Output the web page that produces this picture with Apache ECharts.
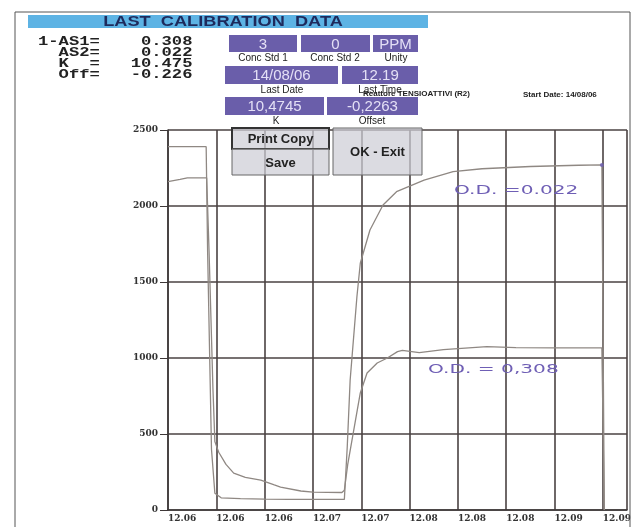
<!DOCTYPE html>
<html>
<head>
<meta charset="utf-8">
<script src="https://cdn.jsdelivr.net/npm/echarts@6/dist/echarts.min.js"></script>
<style>
  html, body { margin: 0; padding: 0; background: #fff; }
  #chart { width: 640px; height: 527px; }
</style>
</head>
<body>
<div id="chart"></div>
<script>
// time axis tick labels (one per vertical grid line)
const timeLabels = ['12.06', '12.06', '12.06', '12.07', '12.07', '12.08', '12.08', '12.08', '12.09', '12.09']

// upper curve at start (~2390), bottom flat, rises to ~2270
const seriesA = [
  [0, 2390], [0.79, 2390], [0.82, 1700], [0.9, 400], [0.97, 110], [1.1, 80], [1.5, 75],
  [2.0, 72], [2.5, 70], [3.65, 70], [3.71, 416], [3.77, 855], [3.91, 1403], [3.98, 1623],
  [4.18, 1842], [4.45, 2007], [4.73, 2094], [5.3, 2170], [5.9, 2226], [6.5, 2245],
  [7.5, 2260], [8.5, 2268], [8.98, 2270], [9.03, 0],
]

// lower curve at start (~2180), decays, rises to ~1070
const seriesB = [
  [0, 2160], [0.25, 2175], [0.4, 2185], [0.8, 2185], [0.85, 1700], [0.93, 800], [0.97, 450],
  [1.05, 380], [1.2, 300], [1.36, 243], [1.6, 215], [1.92, 197], [2.2, 165], [2.33, 151],
  [2.75, 125], [3.0, 118], [3.6, 115], [3.65, 130], [3.72, 300], [3.87, 572], [3.98, 770],
  [4.12, 901], [4.33, 967], [4.54, 1000], [4.75, 1042], [4.85, 1050], [5.2, 1035],
  [5.7, 1055], [6.6, 1075], [7.2, 1068], [8.0, 1066], [8.98, 1066], [9.03, 0],
]

// pen mark at the end of the upper curve
const penDot = [[8.98, 2270]]

// last calibration values printed top left
const calibLines = ['1-AS1=    0.308', '  AS2=    0.022', '  K  =   10.475', '  Off=   -0.226']

const chart = echarts.init(document.getElementById('chart'))

const purple = '#6a5eaa'
const boxText = '#e4e0f6'
const lbl = '10px "Liberation Sans", Arial, sans-serif'

function box(x, y, w, h, text, size) {
  return [
    { type: 'rect', shape: { x, y, width: w, height: h }, style: { fill: purple }, z: 10 },
    {
      type: 'text', x: x + w / 2, y: y + h / 2 + 1, z: 11,
      style: { text, fill: boxText, font: (size || 15) + 'px "Liberation Sans", Arial, sans-serif', align: 'center', verticalAlign: 'middle' },
    },
  ]
}

function label(x, y, text, font, align, sx) {
  return {
    type: 'text', x, y, z: 11, scaleX: sx || 1,
    style: { text, fill: '#222', font: font || lbl, align: align || 'center', verticalAlign: 'middle' },
  }
}

function button(x, y, w, h, text, thick) {
  return [
    {
      type: 'rect', shape: { x, y, width: w, height: h }, z: 10,
      style: { fill: 'rgba(205,205,214,0.72)', stroke: thick ? '#333' : '#666', lineWidth: thick ? 2 : 1 },
    },
    label(x + w / 2, y + h / 2 + 1, text, 'bold 13px "Liberation Sans", Arial, sans-serif'),
  ]
}

const mono = 'bold 13px "Liberation Mono", "DejaVu Sans Mono", monospace'
const hand = '13px "DejaVu Sans", sans-serif'

const graphics = [
  // white margin beyond the page frame (clips the last time label)
  { type: 'rect', shape: { x: 630.5, y: 500, width: 10, height: 27 }, style: { fill: '#fff' }, z: 100 },
  // page frame
  { type: 'rect', shape: { x: 15, y: 12, width: 615, height: 530 }, style: { fill: 'none', stroke: '#555', lineWidth: 1 }, z: 101 },
  // title bar
  { type: 'rect', shape: { x: 28, y: 15, width: 400, height: 13 }, style: { fill: '#5db3e4' }, z: 10 },
  {
    type: 'text', x: 223, y: 22, z: 11, scaleX: 1.3,
    style: { text: 'LAST  CALIBRATION  DATA', fill: '#1e2a5c', font: 'bold 14px "Liberation Sans", Arial, sans-serif', align: 'center', verticalAlign: 'middle' },
  },
  // calibration values
  ...calibLines.map((t, i) => label(38, 42 + i * 11, t, mono, 'left', 1.32)),
  // parameter boxes
  ...box(229, 35, 68, 17, '3'),
  ...box(301, 35, 69, 17, '0'),
  ...box(373, 35, 45, 17, 'PPM'),
  label(263, 58, 'Conc Std 1'), label(335, 58, 'Conc Std 2'), label(396, 58, 'Unity'),
  ...box(225, 66, 113, 18, '14/08/06'),
  ...box(342, 66, 76, 18, '12.19'),
  label(282, 90, 'Last Date'), label(380, 90, 'Last Time'),
  ...box(225, 97, 99, 18, '10,4745'),
  ...box(327, 97, 91, 18, '-0,2263'),
  label(276, 121, 'K'), label(372, 121, 'Offset'),
  label(363, 94, 'Reattore TENSIOATTIVI (R2)', 'bold 8px "Liberation Sans", Arial, sans-serif', 'left'),
  label(523, 95, 'Start Date: 14/08/06', 'bold 8px "Liberation Sans", Arial, sans-serif', 'left'),
  // buttons
  ...button(232, 128, 97, 21, 'Print Copy', true),
  ...button(232, 149, 97, 26, 'Save'),
  ...button(333, 128, 89, 47, 'OK - Exit'),
  // handwritten notes
  {
    type: 'text', x: 454, y: 191, z: 12, scaleX: 1.55,
    style: { text: 'O.D. =0.022', fill: '#6f5fb5', font: hand, verticalAlign: 'middle' },
  },
  {
    type: 'text', x: 428, y: 370, z: 12, scaleX: 1.55,
    style: { text: 'O.D. = 0,308', fill: '#6f5fb5', font: hand, verticalAlign: 'middle' },
  },
]

const curveStyle = { color: '#8f8883', width: 1.3 }
const tickFont = { color: '#333', fontSize: 9, fontWeight: 'bold', fontFamily: '"DejaVu Serif", serif' }

chart.setOption({
  animation: false,
  backgroundColor: '#fff',
  grid: { left: 168, right: 13, top: 130, bottom: 17 },
  xAxis: {
    type: 'value',
    min: 0,
    max: 9.5,
    interval: 1,
    axisLine: { lineStyle: { color: '#3e3838', width: 1.5 } },
    axisTick: { show: false },
    axisLabel: {
      ...tickFont,
      align: 'left',
      margin: 4,
      showMaxLabel: false,
      formatter: (v) => timeLabels[Math.round(v)] || '',
    },
    splitLine: { show: true, lineStyle: { color: '#4a4242', width: 1.6 } },
  },
  yAxis: {
    type: 'value',
    min: 0,
    max: 2500,
    interval: 500,
    axisLine: { show: true, lineStyle: { color: '#3e3838', width: 1.5 } },
    axisTick: { show: true, length: 8, lineStyle: { color: '#3e3838' } },
    axisLabel: { ...tickFont, margin: 10, formatter: (v) => String(v) },
    splitLine: { show: true, lineStyle: { color: '#4a4242', width: 1.6 } },
  },
  series: [
    { type: 'line', data: seriesA, showSymbol: false, lineStyle: curveStyle, z: 3 },
    { type: 'line', data: seriesB, showSymbol: false, lineStyle: curveStyle, z: 3 },
    { type: 'scatter', data: penDot, symbolSize: 4, itemStyle: { color: '#6f5fb5' }, z: 4 },
  ],
  graphic: graphics,
})

window.addEventListener('resize', () => chart.resize())
</script>
</body>
</html>
